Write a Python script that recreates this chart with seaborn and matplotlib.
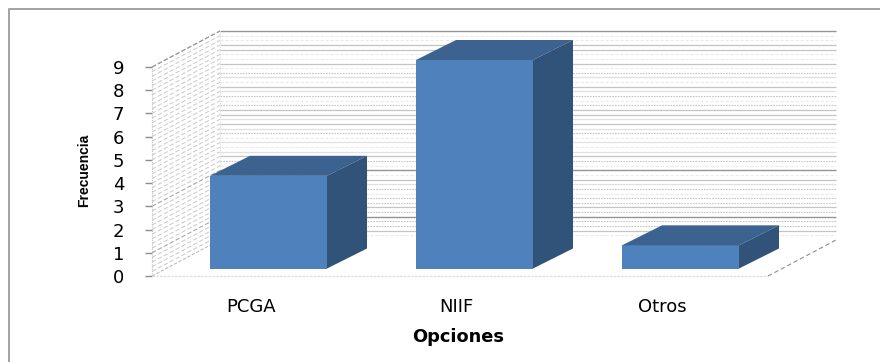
import matplotlib
matplotlib.use("Agg")
import matplotlib.pyplot as plt
from matplotlib.lines import Line2D
from matplotlib.patches import Polygon
from matplotlib.transforms import ScaledTranslation
import numpy as np
import pandas as pd
import seaborn as sns

# Survey results
categorias = ["PCGA", "NIIF", "Otros"]
frecuencias = [4, 9, 1]
marcas_y = [0, 1, 2, 3, 4, 5, 6, 7, 8, 9]

# Wall rule style per 0.2 step, from the top of the scale downwards
tonos_pared = list("dffmmffmfo" "lfmlofomml" "mloflflmof" "dfmlofoomo" "doomf")

ESTILOS = {
    "d": dict(color="#949494", lw=1.0, ls="-"),
    "m": dict(color="#c4c4c4", lw=0.9, ls="-"),
    "l": dict(color="#e0e0e0", lw=0.9, ls="-"),
    "f": dict(color="#ebebeb", lw=0.8, ls=(0, (3, 1.5))),
    "o": dict(color="#c6c6c6", lw=0.8, ls=(0, (1.5, 1))),
}

W, H = 880, 362
sns.set_theme(style="white")
plt.rcParams["font.family"] = ["DejaVu Sans"]


def caja(izq, der, abajo, arriba):
    """Axes rectangle from pixel edges measured from the top-left corner."""
    return [izq / W, 1 - abajo / H, (der - izq) / W, (abajo - arriba) / H]


fig = plt.figure(figsize=(W / 100, H / 100), dpi=100, facecolor="white")

# Chart frame: left and top edges only
fig.add_artist(Line2D([8.5 / W, 8.5 / W, 1], [0, 1 - 9 / H, 1 - 9 / H],
                      color="#a2a2a2", lw=1.4, transform=fig.transFigure))

# Base axes holding the scale and the walls of the 3-D box
ax = fig.add_axes(caja(152, 768, 276, 67))
ax.set_xlim(-0.5, 2.5)
ax.set_ylim(0, 9)
ax.patch.set_alpha(0)
sns.despine(ax=ax, left=True, bottom=True, top=True, right=True)

# Box depth in data units
prof_x = 68 / (616 / 3)
prof_y = 36 / (209 / 9)
x0, x1 = -0.5, 2.5

niveles = 9 - 0.2 * np.arange(len(tonos_pared))
for nivel, tono in zip(niveles, tonos_pared):
    estilo = ESTILOS[tono]
    ax.plot([x0 + prof_x, x1 + prof_x], [nivel + prof_y] * 2, clip_on=False,
            solid_capstyle="butt", zorder=1, **estilo)
    color_diagonal = "#a8a8a8" if tono == "d" else "#cfcfcf"
    ax.plot([x0, x0 + prof_x], [nivel, nivel + prof_y], clip_on=False,
            color=color_diagonal, lw=0.8, ls=(0, (4, 2)), zorder=1)

# Box edges
ax.plot([x0, x0 + prof_x], [9, 9 + prof_y], color="#9a9a9a", lw=0.8,
        ls=(0, (4, 2)), clip_on=False)
ax.plot([x0, x0 + prof_x], [0, prof_y], color="#bdbdbd", lw=0.8,
        ls=(0, (3, 1.5)), clip_on=False)
ax.plot([x0, x0], [0, 9], color="#c4c4c4", lw=0.8, ls=(0, (1, 1)), clip_on=False)
ax.plot([x0 + prof_x] * 2, [prof_y, 9 + prof_y], color="#dddddd", lw=0.7,
        ls=(0, (1, 1)), clip_on=False)
ax.plot([x0, x1], [0, 0], color="#dedede", lw=0.9, ls=(0, (2, 1)), clip_on=False)
ax.plot([x1, x1 + prof_x], [0, prof_y], color="#8f8f8f", lw=0.8,
        ls=(0, (4, 2.5)), clip_on=False)

# Scale and labels
ax.set_yticks(marcas_y, [str(m) for m in marcas_y])
ax.set_xticks(range(len(categorias)), categorias)
ax.tick_params(axis="y", left=True, length=5, width=1.0, color="#8c8c8c",
               pad=15, labelsize=13, labelcolor="black")
ax.tick_params(axis="x", bottom=False, pad=9.5, labelsize=13, labelcolor="black")
desplazamiento = ScaledTranslation(-3.5 / 100, 0, fig.dpi_scale_trans)
for etiqueta in ax.get_xticklabels():
    etiqueta.set_transform(etiqueta.get_transform() + desplazamiento)

ax.set_xlabel("Opciones", fontsize=12.8, fontweight="bold", color="black", va="center")
ax.xaxis.set_label_coords((458 - 152) / 616, (276 - 337) / 209)
ax.set_ylabel("Frecuencia", fontsize=10, fontweight="bold", color="black",
              family="Liberation Sans", va="center")
ax.yaxis.set_label_coords((84 - 152) / 616, (276 - 170) / 209)

# Bars sit on the floor of the box, in front of the back wall
ax_barras = fig.add_axes(caja(165.5, 783.5, 268.5, 60))
ax_barras.patch.set_alpha(0)
datos = pd.DataFrame({"Opciones": categorias, "Frecuencia": frecuencias})
sns.barplot(data=datos, x="Opciones", y="Frecuencia", color="#4F81BD",
            saturation=1, width=117 / 206, linewidth=0, edgecolor="none",
            ax=ax_barras, zorder=3)
ax_barras.set_xlim(-0.5, 2.5)
ax_barras.set_ylim(0, 9)
ax_barras.axis("off")

dx = 40 / 206
dy = 20 / (208.5 / 9)
for barra in list(ax_barras.patches):
    izq, ancho, alto = barra.get_x(), barra.get_width(), barra.get_height()
    der = izq + ancho
    ax_barras.add_patch(Polygon(
        [(izq, alto), (der, alto), (der + dx, alto + dy), (izq + dx, alto + dy)],
        closed=True, facecolor="#3C6390", edgecolor="none", clip_on=False, zorder=3))
    ax_barras.add_patch(Polygon(
        [(der, 0), (der + dx, dy), (der + dx, alto + dy), (der, alto)],
        closed=True, facecolor="#315379", edgecolor="none", clip_on=False, zorder=3))

fig.savefig("out.png", dpi=100)
